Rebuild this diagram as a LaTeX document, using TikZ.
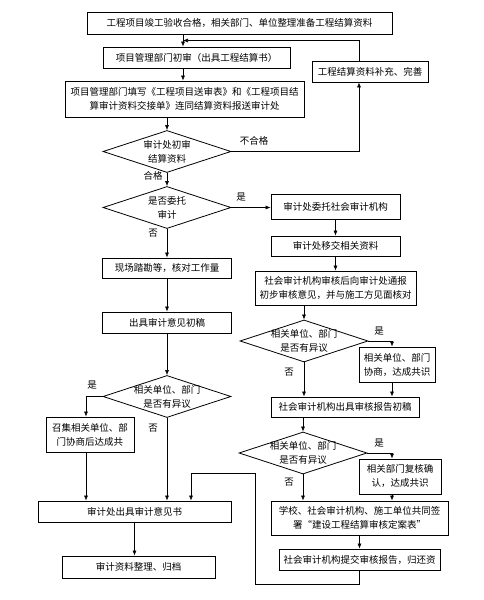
\documentclass[tikz,border=0pt]{standalone}
\usepackage{fontspec}
\setmainfont{Noto Sans CJK SC}
\usetikzlibrary{positioning,arrows.meta,shapes.geometric,calc}
\tikzstyle{stepbox}=[rectangle, draw=black, line width=0.8pt, inner sep=1pt,
                    align=center, font=\fontsize{9.5}{14}\selectfont]
\tikzstyle{askbox}=[diamond, draw=black, line width=0.8pt, inner sep=0pt,
                    minimum width=128pt, minimum height=42pt]
\tikzstyle{tag}=[inner sep=0pt, align=center, font=\fontsize{9.5}{14}\selectfont]
\tikzstyle{pline}=[-{Latex[length=5pt,width=4pt]}, line width=0.6pt]

\begin{document}
\begin{tikzpicture}[x=1pt,y=1pt]
\path[use as bounding box, fill=white] (0,0) rectangle (483,600);

% main column
\node (ACCEPT) [stepbox, minimum width=305pt, minimum height=22pt] at (239.5,577) {工程项目竣工验收合格，相关部门、单位整理准备工程结算资料};
\node (PMREV) [stepbox, minimum width=187pt, minimum height=21pt] at (196.5,542.5) {项目管理部门初审（出具工程结算书）};
\node (SUPPL) [stepbox, minimum width=116pt, minimum height=21pt] at (370,528.5) {工程结算资料补充、完善};
\node (SUBMIT) [stepbox, minimum width=239pt, minimum height=36pt] at (184.5,501) {项目管理部门填写《工程项目送审表》和《工程项目结\\算审计资料交接单》连同结算资料报送审计处};
\node (D1) [askbox, label={[tag]center:审计处初审\\结算资料}] at (167,448.5) {};
\node (D2) [askbox, label={[tag]center:是否委托\\审计}] at (167,392.5) {};
\node (SURVEY) [stepbox, minimum width=129pt, minimum height=20pt] at (167,332) {现场踏勘等，核对工作量};
\node (DRAFT1) [stepbox, minimum width=129pt, minimum height=21pt] at (167,277.5) {出具审计意见初稿};
\node (D3) [askbox, label={[tag]center:相关单位、部门\\是否有异议}] at (167,203.5) {};
\node (COORD) [stepbox, minimum width=88pt, minimum height=35pt] at (90,165.5) {召集相关单位、部\\门协商后达成共};
\node (OPINION) [stepbox, minimum width=193pt, minimum height=21pt] at (134.5,88.5) {审计处出具审计意见书};
\node (ARCHIVE) [stepbox, minimum width=153pt, minimum height=22pt] at (138.5,33) {审计资料整理、归档};

% social audit column
\node (ENTRUST) [stepbox, minimum width=129pt, minimum height=25pt] at (335.5,393.5) {审计处委托社会审计机构};
\node (TRANSFER) [stepbox, minimum width=129pt, minimum height=20pt] at (335.5,354) {审计处移交相关资料};
\node (NOTIFY) [stepbox, minimum width=161pt, minimum height=34pt] at (335.5,312) {社会审计机构审核后向审计处通报\\初步审核意见，并与施工方见面核对};
\node (D4) [askbox, label={[tag]center:相关单位、部门\\是否有异议}] at (304,259) {};
\node (NEGO1) [stepbox, minimum width=76pt, minimum height=35pt] at (397,235.5) {相关单位、部门\\协商，达成共识};
\node (DRAFT2) [stepbox, minimum width=148pt, minimum height=20pt] at (345,193) {社会审计机构出具审核报告初稿};
\node (D5) [askbox, label={[tag]center:相关单位、部门\\是否有异议}] at (303,147) {};
\node (RECHK) [stepbox, minimum width=82pt, minimum height=35pt] at (400,123.5) {相关部门复核确\\认，达成共识};
\node (SIGN) [stepbox, minimum width=177pt, minimum height=34pt] at (359.5,82) {学校、社会审计机构、施工单位共同签\\署“建设工程结算审核定案表”};
\node (REPORT) [stepbox, minimum width=161pt, minimum height=21pt] at (359.5,40.5) {社会审计机构提交审核报告，归还资};

% branch labels
\node (NOK) [tag] at (254,459) {不合格};
\node (OK) [tag] at (153,424) {合格};
\node (YES2) [tag] at (241,403) {是};
\node (NO2) [tag] at (153,367) {否};
\node (YES3) [tag] at (92,215) {是};
\node (NO3) [tag] at (153,172) {否};
\node (YES4) [tag] at (379,269) {是};
\node (NO4) [tag] at (289,228) {否};
\node (YES5) [tag] at (379,157) {是};
\node (NO5) [tag] at (289,118) {否};

% connectors
\coordinate (MERGE) at ($([xshift=-56.5pt]ACCEPT.south)!0.5!([xshift=-13.5pt]PMREV.north)$);
\coordinate (LOOPC) at (255,127);
\draw[pline] ([xshift=-56.5pt]ACCEPT.south) -- ([xshift=-13.5pt]PMREV.north);
\draw[pline] ([xshift=-13.5pt]PMREV.south) -- ([xshift=-1.5pt]SUBMIT.north);
\draw[pline] (SUBMIT.south -| D1.north) -- (D1.north);
\draw[pline] (D1.east) -| ([xshift=-11pt]SUPPL.south);
\draw[pline] ([xshift=-11pt]SUPPL.north) |- (MERGE);
\draw[pline] (D1.south) -- (D2.north);
\draw[pline] (D2.east) -- (D2.east -| ENTRUST.west);
\draw[pline] (D2.south) -- (SURVEY.north);
\draw[pline] (SURVEY.south) -- (DRAFT1.north);
\draw[pline] (DRAFT1.south) -- (D3.north);
\draw[pline] (D3.west) -| ([xshift=-4pt]COORD.north);
\draw[pline] ([xshift=-4pt]COORD.south) -- ([xshift=-4pt]COORD.south |- OPINION.north);
\draw[pline] (D3.south) -- (D3.south |- OPINION.north);
\draw[pline] (OPINION.south) -- (OPINION.south |- ARCHIVE.north);
\draw[pline] (ENTRUST.south) -- (TRANSFER.north);
\draw[pline] (TRANSFER.south) -- (NOTIFY.north);
\draw[pline] (NOTIFY.south -| D4.north) -- (D4.north);
\draw[pline] (D4.east) -| ([xshift=-5pt]NEGO1.north);
\draw[pline] (D4.south) -- (D4.south |- DRAFT2.north);
\draw[pline] ([xshift=-5pt]NEGO1.south) -- ([xshift=-5pt]NEGO1.south |- DRAFT2.north);
\draw[pline] (DRAFT2.south -| D5.north) -- (D5.north);
\draw[pline] (D5.east) -| ([xshift=-8pt]RECHK.north);
\draw[pline] (D5.south) -- (D5.south |- SIGN.north);
\draw[pline] ([xshift=-8pt]RECHK.south) -- ([xshift=-8pt]RECHK.south |- SIGN.north);
\draw[pline] (SIGN.south) -- (REPORT.north);
\draw[pline] (REPORT.south) -- ++(0,-14) -| (LOOPC) -| ([xshift=56.5pt]OPINION.north);

\end{tikzpicture}
\end{document}
